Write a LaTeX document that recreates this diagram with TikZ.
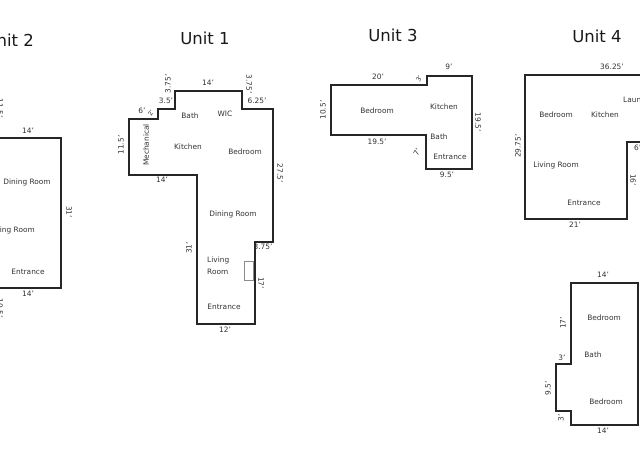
\documentclass[tikz,border=0pt]{standalone}
\usepackage{fontspec}
\setmainfont{DejaVu Sans}
\tikzset{
  wall/.style={draw=black!85,line width=1.8pt,line join=miter},
  room/.style={font=\fontsize{7.4}{9}\selectfont,text=black!80,inner sep=0pt},
  dim/.style={font=\fontsize{7.4}{9}\selectfont,text=black!80,inner sep=0pt},
  title/.style={font=\fontsize{16.5}{18}\selectfont,text=black!90,inner sep=0pt},
}
\begin{document}
\begin{tikzpicture}[x=1pt,y=-1pt]
\useasboundingbox (0,0) rectangle (640,459);
\fill[white] (0,0) rectangle (640,459);
% Unit 2
\begin{scope}
\clip (0,0) rectangle (640,459);
\node[title,anchor=east] (t2) at (34,40) {Unit 2};
\draw[wall] (-40,138) -- (61,138) -- (61,288) -- (-40,288);
\node[dim] (u2a) at (28,131) {14'};
\node[dim] (u2b) at (28,294) {14'};
\node[dim,rotate=-90] (u2c) at (69,212) {31'};
\node[room] (u2d) at (27,182) {Dining Room};
\node[room,anchor=east] (u2e) at (35,230) {Living Room};
\node[room] (u2f) at (28,272) {Entrance};
\node[dim,rotate=-90] (u2g) at (0,108) {11.5'};
\node[dim,rotate=-90] (u2h) at (0,308) {10.5'};
% Unit 4
\draw[wall] (660,75) -- (525,75) -- (525,219) -- (627,219) -- (627,142) -- (660,142);
\end{scope}
% Unit 1
\node[title] (t1) at (205,38) {Unit 1};
\draw[wall] (129,119) -- (158,119) -- (158,109) -- (175,109) -- (175,91) -- (242,91) -- (242,109) -- (273,109) -- (273,242) -- (255,242) -- (255,324) -- (197,324) -- (197,175) -- (129,175) -- cycle;
\draw[draw=black!45,line width=1pt] (244,261) rectangle (253,280);
\node[dim] (a1) at (208,83) {14'};
\node[dim,rotate=90] (a2) at (168,84) {3.75'};
\node[dim] (a3) at (166,101) {3.5'};
\node[dim,rotate=-90] (a4) at (249,84) {3.75'};
\node[dim] (a5) at (257,101) {6.25'};
\node[dim] (a6) at (142,111) {6'};
\node[dim,rotate=60,font=\fontsize{6}{7}\selectfont] (a7) at (151,113) {2'};
\node[dim,rotate=90] (a8) at (121,145) {11.5'};
\node[dim] (a9) at (162,180) {14'};
\node[dim,rotate=-90] (a10) at (280,173) {27.5'};
\node[dim,rotate=90] (a11) at (189,248) {31'};
\node[dim] (a12) at (263,247) {3.75'};
\node[dim,rotate=-90] (a13) at (261,283) {17'};
\node[dim] (a14) at (225,330) {12'};
\node[room] (r1) at (190,116) {Bath};
\node[room] (r2) at (225,114) {WIC};
\node[room] (r3) at (188,147) {Kitchen};
\node[room] (r4) at (245,152) {Bedroom};
\node[room,rotate=90] (r5) at (146,145) {Mechanical};
\node[room] (r6) at (233,214) {Dining Room};
\node[room,align=left,anchor=west,font=\fontsize{7.4}{12}\selectfont] (r7) at (207,266) {Living\\Room};
\node[room] (r8) at (224,307) {Entrance};
% Unit 3
\node[title] (t3) at (393,35) {Unit 3};
\draw[wall] (331,85) -- (427,85) -- (427,76) -- (472,76) -- (472,169) -- (426,169) -- (426,135) -- (331,135) -- cycle;
\node[dim] (b1) at (378,77) {20'};
\node[dim,rotate=60,font=\fontsize{6.5}{7}\selectfont] (b2) at (419,79) {3'};
\node[dim] (b3) at (449,67) {9'};
\node[dim,rotate=90] (b4) at (323,110) {10.5'};
\node[dim,rotate=-90] (b5) at (478,122) {19.5'};
\node[dim] (b6) at (377,142) {19.5'};
\node[dim,rotate=60] (b7) at (417,152) {7'};
\node[dim] (b8) at (447,175) {9.5'};
\node[room] (b9) at (377,111) {Bedroom};
\node[room] (b10) at (444,107) {Kitchen};
\node[room] (b11) at (439,137) {Bath};
\node[room] (b12) at (450,157) {Entrance};
% Unit 4
\node[title] (t4) at (597,36) {Unit 4};
\node[dim] (c1) at (612,67) {36.25'};
\node[dim,rotate=90] (c2) at (518,146) {29.75'};
\node[dim] (c3) at (575,225) {21'};
\node[dim,rotate=-90] (c4) at (633,180) {16'};
\node[dim,anchor=west] (c5) at (634,148) {6'};
\node[room] (c6) at (556,115) {Bedroom};
\node[room] (c7) at (605,115) {Kitchen};
\node[room,anchor=west] (c8) at (623,100) {Laundry};
\node[room] (c9) at (556,165) {Living Room};
\node[room] (c10) at (584,203) {Entrance};
% Lower unit
\draw[wall] (571,283) -- (638,283) -- (638,425) -- (571,425) -- (571,411) -- (556,411) -- (556,364) -- (571,364) -- cycle;
\node[dim] (d1) at (603,275) {14'};
\node[dim,rotate=90] (d2) at (563,323) {17'};
\node[dim] (d3) at (562,358) {3'};
\node[dim,rotate=90] (d4) at (548,388) {9.5'};
\node[dim,rotate=90] (d5) at (561,418) {3'};
\node[dim] (d6) at (603,431) {14'};
\node[room] (d7) at (604,318) {Bedroom};
\node[room] (d8) at (593,355) {Bath};
\node[room] (d9) at (606,402) {Bedroom};
\end{tikzpicture}
\end{document}
